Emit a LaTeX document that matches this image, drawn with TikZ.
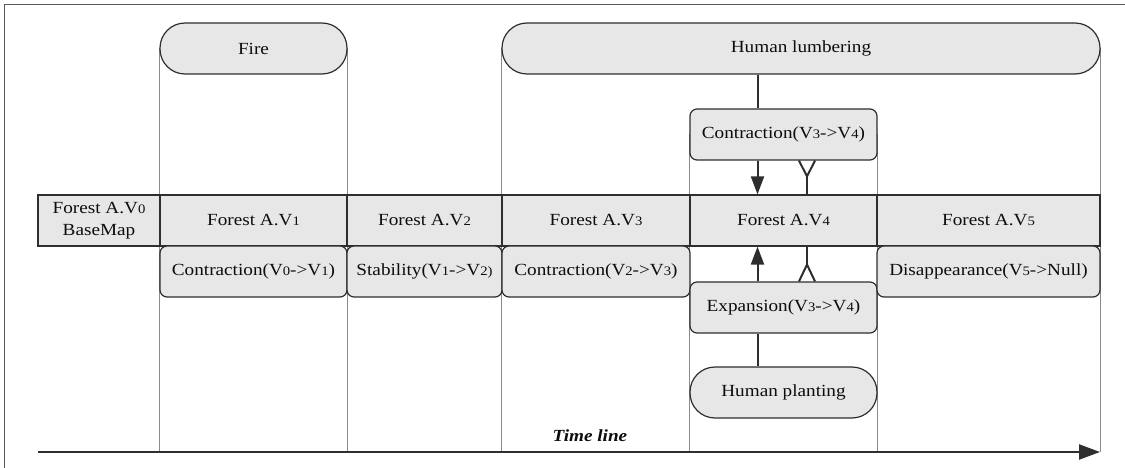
\documentclass[tikz,border=0pt]{standalone}
\usepackage{fontspec}
\setmainfont{Liberation Serif}[FakeStretch=1.13]
\usetikzlibrary{arrows.meta,calc}
\definecolor{boxfill}{HTML}{E6E7E6}
\definecolor{boxline}{HTML}{2E2E2E}
\definecolor{guide}{HTML}{8A8A8A}
\newcommand\vsub[1]{{\fontsize{13}{13}\selectfont #1}}
\pgfdeclarelayer{background}
\pgfsetlayers{background,main}

\begin{document}
\begin{tikzpicture}[x=1pt,y=-1pt,
  every node/.style={font=\fontsize{17}{21}\selectfont, text=black!95},
  cell/.style={draw=boxline, line width=1.2pt, fill=boxfill, minimum height=51pt, inner sep=0pt, anchor=center},
  event/.style={cell, rounded corners=25pt},
  change/.style={cell, rounded corners=7pt},
  link/.style={draw=boxline, line width=2pt},
  head/.style={-{Triangle[length=18pt,width=13pt]}},
  guideline/.style={draw=guide, line width=0.7pt}]
\useasboundingbox (0,0) rectangle (1125,468);

% outer frame
\draw[draw=black!65, line width=1pt] (4.5,475) -- (4.5,5) -- (1130,5);

% events
\node[event, minimum width=187pt] (fire) at (253.5,48.5) {Fire};
\node[event, minimum width=598pt] (lumber) at (801,48.5) {Human lumbering};
\node[event, minimum width=187pt] (plant) at (783.5,392.5) {Human planting};

% forest versions
\node[cell, minimum width=122pt, align=center] (v0) at (99,220.5) {Forest A.V\vsub{0}\\[1pt]BaseMap};
\node[cell, minimum width=187pt] (v1) at (253.5,220.5) {Forest A.V\vsub{1}};
\node[cell, minimum width=155pt] (v2) at (424.5,220.5) {Forest A.V\vsub{2}};
\node[cell, minimum width=188pt] (v3) at (596,220.5) {Forest A.V\vsub{3}};
\node[cell, minimum width=187pt] (v4) at (783.5,220.5) {Forest A.V\vsub{4}};
\node[cell, minimum width=223pt] (v5) at (988.5,220.5) {Forest A.V\vsub{5}};

% changes between versions
\node[change, minimum width=187pt] (c34) at (783.5,134.5) {Contraction(V\vsub{3}->V\vsub{4})};
\node[change, minimum width=187pt] (c01) at (253.5,271.5) {Contraction(V\vsub{0}->V\vsub{1})};
\node[change, minimum width=155pt] (s12) at (424.5,271.5) {Stability(V\vsub{1}->V\vsub{2)}};
\node[change, minimum width=188pt] (c23) at (596,271.5) {Contraction(V\vsub{2}->V\vsub{3})};
\node[change, minimum width=187pt] (e34) at (783.5,307.5) {Expansion(V\vsub{3}->V\vsub{4})};
\node[change, minimum width=223pt] (d5) at (988.5,271.5) {Disappearance(V\vsub{5}->Null)};

% time line
\coordinate (tl0) at (38,452);
\coordinate (tl1) at (1100,452);
\draw[link, line width=2.2pt, -{Triangle[length=21pt,width=15pt]}] (tl0) -- (tl1);
\node[font=\fontsize{17}{21}\selectfont\bfseries\itshape] (tlab) at (590,436) {Time line};

% column guides
\begin{pgfonlayer}{background}
\draw[guideline] (fire.west) -- (fire.west |- tl0);
\draw[guideline] (fire.east) -- (fire.east |- tl0);
\draw[guideline] (lumber.west) -- (lumber.west |- tl0);
\draw[guideline] (lumber.east) -- (lumber.east |- tl0);
\draw[guideline] (c34.west) -- (c34.west |- tl0);
\draw[guideline] (c34.east) -- (c34.east |- tl0);
\end{pgfonlayer}

% links around version 4
\coordinate (ax) at (757.5,0);
\coordinate (bx) at (807,0);
\draw[link] (lumber.south -| ax) -- (c34.north -| ax);
\draw[link, head] (c34.south -| ax) -- (v4.north -| ax);
\draw[link, head] (e34.north -| ax) -- (v4.south -| ax);
\draw[link] (plant.north -| ax) -- (e34.south -| ax);

\draw[link] (v4.north -| bx) -- ++(0,-18) coordinate (f1);
\draw[link] ($(c34.south -| bx)+(-8,0)$) -- (f1) -- ($(c34.south -| bx)+(8,0)$);
\draw[link] (v4.south -| bx) -- ++(0,18) coordinate (f2);
\draw[link] ($(e34.north -| bx)+(-8,0)$) -- (f2) -- ($(e34.north -| bx)+(8,0)$);
\end{tikzpicture}
\end{document}
